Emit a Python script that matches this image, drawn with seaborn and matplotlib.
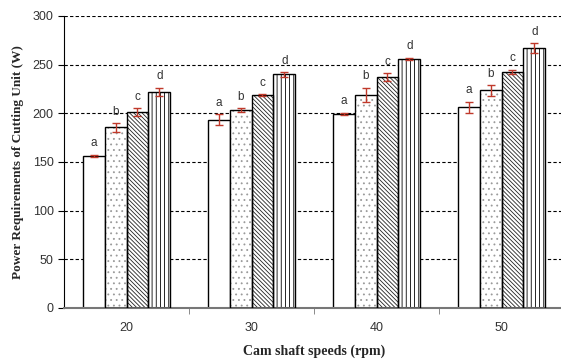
import matplotlib
matplotlib.use("Agg")
import matplotlib.pyplot as plt
import seaborn as sns
import pandas as pd
import numpy as np

# data
speeds = ["20", "30", "40", "50"]
treatments = ["T1", "T2", "T3", "T4"]
power_t1 = [156.5, 193.5, 199.5, 206.0]
power_t2 = [185.5, 203.0, 219.0, 223.5]
power_t3 = [201.0, 218.5, 237.5, 242.5]
power_t4 = [222.0, 240.0, 256.0, 267.0]
err_t1 = [1.0, 5.5, 1.0, 5.8]
err_t2 = [4.3, 2.0, 7.0, 5.5]
err_t3 = [4.0, 1.0, 3.8, 2.0]
err_t4 = [4.0, 2.4, 1.0, 5.0]
letters = ["a", "b", "c", "d"]

hatches = ["", "...", "\\\\\\\\\\\\\\\\", "||||"]
hatch_colors = ["black", "#9a9a9a", "#222222", "black"]

values = [power_t1, power_t2, power_t3, power_t4]
errors = [err_t1, err_t2, err_t3, err_t4]

rows = []
for t, vals in zip(treatments, values):
    for s, v in zip(speeds, vals):
        rows.append({"speed": s, "treatment": t, "power": v})
df = pd.DataFrame(rows)

sns.set_style("white")
plt.rcParams["font.family"] = ["Liberation Sans", "DejaVu Sans"]
plt.rcParams["hatch.linewidth"] = 0.6

fig = plt.figure(figsize=(5.61, 3.64), dpi=100)
ax = fig.add_axes([64 / 561, 56 / 364, 500 / 561, 292 / 364])

sns.barplot(data=df, x="speed", y="power", hue="treatment",
            order=speeds, hue_order=treatments,
            palette=["white"] * 4, width=0.7, saturation=1,
            edgecolor="black", linewidth=1.0, legend=False, ax=ax, zorder=2)

# hatches + error bars + letters, bar by bar
bars = [p for p in ax.patches]
for i, t in enumerate(treatments):
    for j in range(len(speeds)):
        bar = bars[i * len(speeds) + j]
        xc = bar.get_x() + bar.get_width() / 2
        if hatches[i]:
            # hatch colour follows the edge colour, so hatch this bar in its colour
            # and redraw a black outline over it
            bar.set_hatch(hatches[i])
            bar.set_edgecolor(hatch_colors[i])
            bar.set_linewidth(0)
            ax.bar(xc, bar.get_height(), width=bar.get_width(), fill=False,
                   edgecolor="black", linewidth=1.0, zorder=3)
        top = values[i][j]
        e = errors[i][j]
        ax.errorbar(xc, top, yerr=e, fmt="none", ecolor="#c0392b",
                    elinewidth=1.0, capsize=3, capthick=1.0, zorder=4)
        ax.annotate(letters[i], (xc, top + e), xytext=(0, 4),
                    textcoords="offset points", ha="center", va="bottom",
                    fontsize=8.5, color="#333333")

ax.set_ylim(0, 300)
ax.set_xlim(-0.5, 3.5)
ax.set_yticks(np.arange(0, 301, 50))
ax.yaxis.grid(True, linestyle=(0, (3, 2)), color="black", linewidth=0.8)
ax.set_axisbelow(True)

ax.set_xticks([0.5, 1.5, 2.5], minor=True)
ax.tick_params(axis="x", which="major", length=0, pad=10, labelsize=9, labelcolor="#333333")
ax.tick_params(axis="x", which="minor", length=4, direction="out", color="#777777", bottom=True)
ax.tick_params(axis="y", length=4, direction="out", color="black", left=True, labelsize=9,
               labelcolor="#333333")

for side in ["top", "right"]:
    ax.spines[side].set_visible(False)
ax.spines["left"].set_color("black")
ax.spines["bottom"].set_color("#777777")
ax.spines["bottom"].set_linewidth(1.5)

ax.set_xlabel("Cam shaft speeds (rpm)", family=["Liberation Serif"], fontweight="bold",
              fontsize=10, labelpad=8)
ax.set_ylabel("Power Requirements of Cutting Unit (W)", family=["Liberation Serif"],
              fontweight="bold", fontsize=9.5, labelpad=6)

fig.savefig("out.png", dpi=100)
